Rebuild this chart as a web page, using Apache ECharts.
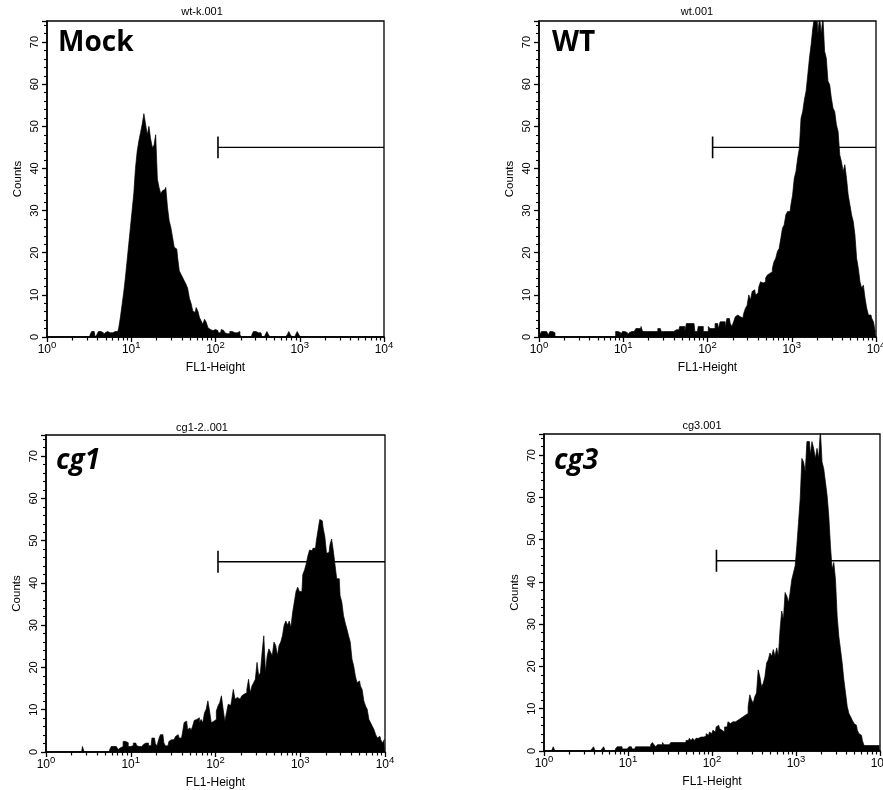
<!DOCTYPE html>
<html>
<head>
<meta charset="utf-8">
<script src="https://cdn.jsdelivr.net/npm/echarts@6/dist/echarts.min.js"></script>
<style>
html,body{margin:0;padding:0;background:#fff;}
#chart{width:883px;height:790px;}
</style>
</head>
<body>
<div id="chart"></div>
<script>
// ---- data ----
const binsPerDecade = 50;                 // channel resolution: 1/50 decade
const decadeExponents = [0, 1, 2, 3, 4];  // x tick labels 10^n
const panelLabels = ['Mock', 'WT', 'cg1', 'cg3'];
const fileNames = ['wt-k.001', 'wt.001', 'cg1-2..001', 'cg3.001'];
const gateStart = [107, 115, 107, 113];
const gateLevel = 45;

const mockCounts = [
  0,0,0,0,0,0,0,0,0,0,
  0,0,0,0,0,0,0,0,0,0,
  0,0,0,0,0,0,0.5,1.3,1.3,0,
  0.5,1.3,1.3,1,0.5,1,1.3,1,1.3,1,
  1.3,1,1.3,2,4.5,7.5,10.5,14,18,22,
  26,30,34,40,44,46.5,48.5,50.5,53,50.5,
  48,50,47,45,45.5,48,37.5,35.5,34,34.7,
  35,35.5,30.8,27.6,26,23.7,21.3,20.9,18.9,15.7,
  14.9,14.1,13.3,12.5,11.5,9.2,8,6.2,5.8,7,
  6.2,4.6,3.8,3,4.2,3.5,2.2,1.8,1.5,1.4,
  1.8,1.5,1,1,1.8,1.5,1,0.8,0.8,1.3,
  1.3,1,1.3,1,1.3,0.5,0,0,0,0,
  0,0,0.5,1.3,1.3,1,1.3,1,0,0,
  0.5,1.3,0.5,0,0,0,0,0,0,0,
  0,0,0,0.5,1.3,0.5,0,0,0.5,1.3,
  0.5,0,0,0,0,0,0,0,0,0,
  0,0,0,0,0,0,0,0,0,0,
  0,0,0,0,0,0,0,0,0,0,
  0,0,0,0,0,0,0,0,0,0,
  0,0,0,0,0,0,0,0,0,0,
  0
];
const wtCounts = [
  3.5,0.5,1.3,1.3,1.3,1.3,0.5,1.3,1.3,1,
  0,0,0,0,0,0,0,0,0,0,
  0,0,0,0,0,0,0,0,0,0,
  0,0,0,0,0,0,0,0,0,0,
  0,0,0,0,0,0,1.3,1.3,1,0.5,
  1.3,1.3,1,0.5,1,1.3,1.3,1.3,2,2,
  2,2.5,1.3,1.3,1.3,1.3,1.3,1.3,1.3,1.3,
  1.3,2,2,1.3,1.3,1.3,1.3,1.3,1.3,1.3,
  1.3,1.7,1.7,1.7,2.5,2.5,2.5,1.3,3.2,3.2,
  3.2,3.2,3.2,1.3,1.3,2.5,2.5,2.5,1.3,1.3,
  1.3,2.5,2,2,2,3.2,3.2,2,3.6,3.6,
  3.6,2,4.4,4.4,3.2,2.5,3.6,4.8,5.2,4.8,
  5.2,4.5,5.6,6.8,7.5,10,8.8,10.8,11.2,10,
  10.4,12,13.1,12.8,13.1,14,14.7,15.1,15.5,16.3,
  17.9,18.7,20.3,21,23.4,25.8,26.6,29,29.8,29.8,
  31.4,33.7,37.7,39.3,42.4,44.8,51.9,53.5,56.3,58.3,
  62.2,66.2,69.4,73.3,76,76,72,76,72,76,
  67.8,66.2,60.7,59.9,56.7,54.3,53.5,50.4,48.8,43.2,
  41.6,39.3,40.9,37.7,33.7,31.4,29,27.4,24.2,18.7,
  16.3,13.1,11.6,12.3,9.2,6.8,5.2,5.2,4.4,3.6,
  1.3
];
const cg1Counts = [
  0,0,0,0,0,0,0,0,0,0,
  0,0,0,0,0,0,0,0,0,0,
  0,0,1.3,0,0,0,0,0,0,0,
  0,0,0,0,0,0,0,0,0.5,1.3,
  1.3,1.3,1.3,0.6,1,1.3,2.5,2.5,2.2,1.3,
  1.3,1.5,2.1,2.1,1.5,1.3,1.3,1.3,1.8,2.1,
  2.1,1.5,1.5,3.3,3.3,2,1.4,3,4.1,4.1,
  2.2,1.4,1.5,2.5,2.9,2.9,2.5,3.7,4.1,3.3,
  3.3,4.5,7,7.3,5.3,5.7,5,6.1,7.5,7.7,
  8.1,6.9,7.7,6.9,9.3,10.1,12.1,9.7,6.9,7.3,
  7.7,9.7,10.9,11.7,13.3,10.1,7.3,9.3,11.3,11,
  12.1,14.8,12.5,12.9,12.5,12.9,13.3,13.7,14,14.8,
  17.2,14,15.6,16.4,17.2,21.2,18,18.8,23.6,27.5,
  18.8,22.8,24.4,23.6,22.8,26,25.2,22.8,25.2,26,
  27.5,30,31,30,31,29.5,33,35.5,38,39,
  38,38,42,43,44.5,46.4,47.8,47.6,48.2,48.2,
  50,52.5,55,54.7,53,51,47,47.2,49,50.4,
  47.6,44.3,41,41,37,35.5,32.3,30.6,29.1,27.5,
  26,22,20.4,18,16.4,16.8,15.6,14.8,12.1,10.9,
  10.1,7.7,6.9,6.1,5.3,4.1,3.3,3.7,2.9,2.1,
  2.9
];
const cg3Counts = [
  0,0,0,0,0,0,1,0,0,0,
  0,0,0,0,0,0,0,0,0,0,
  0,0,0,0,0,0,0,0,0,0.5,
  1,0,0,0,0,0.5,1,0,0,0,
  0,0,0,0.5,1,1,1,0.5,0.5,0.5,
  0.5,1,1,0.5,0.5,1,1,1,1,1,
  1,1,1,1,1.5,2,1.5,1,1.5,1.5,
  1.5,2,1.5,1.5,1.5,1.5,2,2,2,2,
  2,2,2,2,2,2.5,2.5,3,2.5,3,
  2.5,3,3,3.3,3.3,3.3,3.5,4.1,3.7,4.5,
  4.1,4.9,4.5,5.7,6.1,5.3,4.9,4.5,5.7,5.7,
  6.9,6.5,6.9,6.5,6.9,7.3,6.9,7.7,8.1,8.5,
  8.5,8.9,10.5,13.3,12.1,11.3,12.9,13.7,19.2,17.6,
  15.2,16,17.6,20.8,21.6,23.2,22.4,24,22.4,24.4,
  22.4,28.7,33.1,31.1,37.5,36.7,35.1,37.5,40.6,42.2,
  43.8,48.6,54.1,59.7,69.2,68.4,66,73.2,73.2,70,
  73.2,71.6,69.2,71.6,69.2,76,68.4,66.8,63.7,60.5,
  55.7,48.6,43,44.6,40.6,31.9,27.1,24,20.8,16.8,
  13.7,10.5,8.9,8.1,7.3,6.5,6.1,4.9,4.1,3.7,
  2.5,1.3,1.3,1.3,1.3,1.3,1.3,1.3,1.3,1.3,
  1
];
const allCounts = [mockCounts, wtCounts, cg1Counts, cg3Counts];

// channel positions (bin centres on the log FL1 scale)
const channels = mockCounts.map((_, i) => Math.pow(10, i / binsPerDecade));
const decadeTicks = decadeExponents.map(e => Math.pow(10, e));
const minorTicks = [];
decadeExponents.slice(0, 4).forEach(e => { for (let m = 2; m <= 9; m++) minorTicks.push(m * Math.pow(10, e)); });

// ---- layout ----
const grids = [
  {left: 47,  top: 21,  width: 337, height: 316},
  {left: 539, top: 21,  width: 337, height: 316},
  {left: 46,  top: 435, width: 339, height: 317},
  {left: 544, top: 434, width: 336, height: 317}
];
const FONT = 'Liberation Sans, Arial, Helvetica, sans-serif';

const option = {
  animation: false,
  backgroundColor: '#fff',
  grid: grids.map(g => Object.assign({show: true, borderColor: '#000', borderWidth: 1.3, backgroundColor: 'rgba(0,0,0,0)', containLabel: false, outerBoundsMode: 'none'}, g)),
  xAxis: [],
  yAxis: [],
  series: [],
  graphic: []
};

grids.forEach((g, k) => {
  option.xAxis.push({
    type: 'log', logBase: 10, gridIndex: k, min: 1, max: 10000, position: 'bottom',
    axisLine: {show: true, lineStyle: {color: '#000', width: 1.6}},
    axisTick: {show: true, length: 5, customValues: decadeTicks, lineStyle: {color: '#000', width: 1.3}},
    axisLabel: {
      customValues: decadeTicks, margin: 3, color: '#000', hideOverlap: false,
      formatter: v => '{b|10}{s|' + Math.round(Math.log10(v)) + '}',
      rich: {
        b: {fontSize: 12, fontFamily: FONT, color: '#000', lineHeight: 16, verticalAlign: 'bottom', padding: [6, 0, 0, 0]},
        s: {fontSize: 9.5, fontFamily: FONT, color: '#000', lineHeight: 16, verticalAlign: 'top', padding: [0, 0, 7, 0]}
      }
    },
    splitLine: {show: false},
    name: 'FL1-Height', nameLocation: 'middle', nameGap: 25,
    nameTextStyle: {fontSize: 12, fontFamily: FONT, color: '#000'}
  });
  option.xAxis.push({
    type: 'log', logBase: 10, gridIndex: k, min: 1, max: 10000, position: 'bottom',
    axisLine: {show: false},
    axisTick: {show: true, length: 3.5, customValues: minorTicks, lineStyle: {color: '#000', width: 1.2}},
    axisLabel: {show: false},
    splitLine: {show: false}
  });
  option.yAxis.push({
    type: 'value', gridIndex: k, min: 0, max: 75, interval: 10,
    axisLine: {show: true, lineStyle: {color: '#000', width: 1.6}},
    axisTick: {show: true, length: 5, lineStyle: {color: '#000', width: 1.3}},
    minorTick: {show: true, splitNumber: 5, length: 3, lineStyle: {color: '#000', width: 1.1}},
    axisLabel: {rotate: 90, showMaxLabel: false, fontSize: 11, fontFamily: FONT, color: '#000', margin: 7},
    splitLine: {show: false},
    name: 'Counts', nameLocation: 'middle', nameGap: 23, nameRotate: 90,
    nameTextStyle: {fontSize: 11.5, fontFamily: FONT, color: '#000'}
  });
  option.series.push({
    type: 'line', xAxisIndex: 2 * k, yAxisIndex: k,
    data: channels.map((c, i) => [c, allCounts[k][i]]),
    step: 'middle', symbol: 'none', clip: true,
    lineStyle: {color: '#000', width: 0.7},
    areaStyle: {color: '#000', opacity: 1}
  });
  option.series.push({
    type: 'line', xAxisIndex: 2 * k, yAxisIndex: k, symbol: 'none',
    data: [[gateStart[k], gateLevel], [10000, gateLevel]],
    lineStyle: {color: '#000', width: 1.4}
  });
  option.series.push({
    type: 'line', xAxisIndex: 2 * k, yAxisIndex: k, symbol: 'none',
    data: [[gateStart[k], gateLevel - 2.6], [gateStart[k], gateLevel + 2.6]],
    lineStyle: {color: '#000', width: 1.6}
  });
});

const titlePos = [[202, 12], [697, 12], [202, 428], [702, 426]];
const labelPos = [[58, 43], [552, 43], [56, 461], [554, 461]];
titlePos.forEach((p, k) => {
  option.graphic.push({
    type: 'text', x: p[0], y: p[1],
    style: {text: fileNames[k], font: '11px ' + FONT, fill: '#000', textAlign: 'center', textVerticalAlign: 'middle'}
  });
  const italic = k >= 2 ? 'italic ' : '';
  option.graphic.push({
    type: 'text', x: labelPos[k][0], y: labelPos[k][1],
    style: {text: panelLabels[k], font: italic + 'bold 28px "Open Sans", "DejaVu Sans", sans-serif', fill: '#000', textAlign: 'left', textVerticalAlign: 'middle'}
  });
});

const chart = echarts.init(document.getElementById('chart'), null, {renderer: 'canvas'});
chart.setOption(option);
</script>
</body>
</html>
